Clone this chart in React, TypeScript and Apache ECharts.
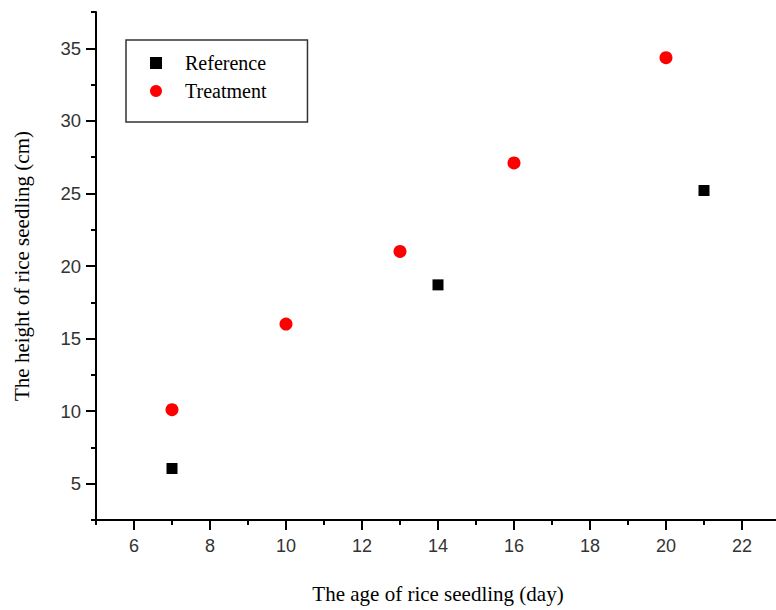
import React, { useEffect, useRef } from 'react';
import * as echarts from 'echarts';

const xMajorTicks = [6, 8, 10, 12, 14, 16, 18, 20, 22];
const xMinorTicks = [5, 7, 9, 11, 13, 15, 17, 19, 21, 23];
const yMajorTicks = [5, 10, 15, 20, 25, 30, 35];
const yMinorTicks = [2.5, 7.5, 12.5, 17.5, 22.5, 27.5, 32.5, 37.5];

const referenceDays = [7, 14, 21];
const referenceHeights = [6.05, 18.7, 25.2];
const treatmentDays = [7, 10, 13, 16, 20];
const treatmentHeights = [10.1, 16.0, 21.0, 27.1, 34.35];

const SERIF = 'Liberation Serif, Times New Roman, serif';
const SANS = 'Liberation Sans, Arial, sans-serif';

export default function App() {
  const ref = useRef<HTMLDivElement>(null);

  useEffect(() => {
    if (!ref.current) return;
    const chart = echarts.init(ref.current, undefined, { renderer: 'svg' });
    const lineStyle = { color: '#000', width: 2 };
    const baseX = { type: 'value', min: 5, max: 23, position: 'bottom', splitLine: { show: false } };
    const baseY = { type: 'value', min: 2.5, max: 37.5, position: 'left', splitLine: { show: false } };
    chart.setOption({
      animation: false,
      backgroundColor: '#fff',
      grid: { left: 96, top: 12, right: -4, bottom: 90, containLabel: false, outerBoundsMode: 'none' },
      legend: {
        orient: 'vertical',
        left: 126,
        top: 40,
        data: [
          { name: 'Reference', icon: 'path://M0,0L10,0L10,10L0,10Z' },
          { name: 'Treatment', icon: 'circle' },
        ],
        itemWidth: 48,
        itemHeight: 12,
        itemGap: 8,
        padding: [13, 41, 21, 24],
        borderColor: '#333',
        borderWidth: 1.5,
        selectedMode: false,
        itemStyle: { opacity: 1 },
        textStyle: { fontFamily: SERIF, fontSize: 20, color: '#000' },
      },
      xAxis: [
        {
          ...baseX,
          axisLine: { show: true, onZero: false, lineStyle },
          axisTick: { show: true, customValues: xMajorTicks, length: 10, inside: false, lineStyle },
          axisLabel: { customValues: xMajorTicks, margin: 17, fontFamily: SANS, fontSize: 18, color: '#333' },
          name: 'The age of rice seedling (day)',
          nameLocation: 'middle',
          nameGap: 63,
          nameTextStyle: { fontFamily: SERIF, fontSize: 21, color: '#000' },
        },
        {
          ...baseX,
          axisLine: { show: false, onZero: false },
          axisTick: { show: true, customValues: xMinorTicks, length: 5, inside: false, lineStyle },
          axisLabel: { show: false },
        },
      ],
      yAxis: [
        {
          ...baseY,
          axisLine: { show: true, onZero: false, lineStyle },
          axisTick: { show: true, customValues: yMajorTicks, length: 10, inside: false, lineStyle },
          axisLabel: { customValues: yMajorTicks, margin: 15, fontFamily: SANS, fontSize: 18.5, color: '#333' },
          name: 'The height of rice seedling (cm)',
          nameLocation: 'middle',
          nameGap: 64,
          nameTextStyle: { fontFamily: SERIF, fontSize: 21, color: '#000' },
        },
        {
          ...baseY,
          axisLine: { show: false, onZero: false },
          axisTick: { show: true, customValues: yMinorTicks, length: 5, inside: false, lineStyle },
          axisLabel: { show: false },
        },
      ],
      series: [
        {
          name: 'Reference',
          type: 'scatter',
          xAxisIndex: 0,
          yAxisIndex: 0,
          symbol: 'rect',
          symbolSize: 11,
          itemStyle: { color: '#000', opacity: 1 },
          data: referenceDays.map((d, i) => [d, referenceHeights[i]]),
        },
        {
          name: 'Treatment',
          type: 'scatter',
          xAxisIndex: 0,
          yAxisIndex: 0,
          symbol: 'circle',
          symbolSize: 13,
          itemStyle: { color: '#ff0000', opacity: 1 },
          data: treatmentDays.map((d, i) => [d, treatmentHeights[i]]),
        },
      ],
    });
    return () => chart.dispose();
  }, []);

  return (
    <div
      ref={ref}
      style={{ position: 'fixed', left: 0, top: 0, width: 776, height: 610, background: '#fff' }}
    />
  );
}
